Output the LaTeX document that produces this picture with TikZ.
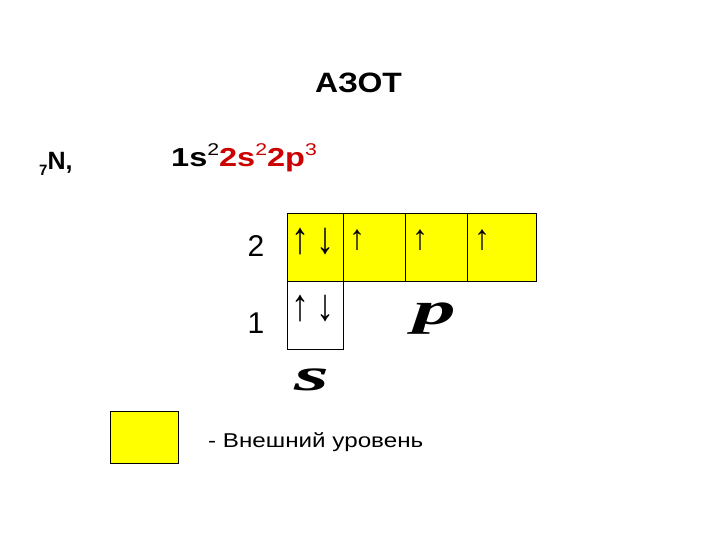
\documentclass[tikz,border=0pt]{standalone}
\usepackage{fontspec}
\setmainfont{Liberation Sans}
\newfontfamily\serifff{Liberation Serif}
\definecolor{ylw}{RGB}{255,255,0}
\definecolor{redtxt}{RGB}{204,0,0}
\newcommand{\supx}[1]{\raisebox{11pt}{\mdseries\fontsize{17}{17}\selectfont #1}}
\tikzset{
  cell/.style={draw=black, line width=0.8pt, fill=ylw, minimum width=#1, minimum height=68pt, inner sep=0pt, outer sep=0pt},
  wcell/.style={draw=black, line width=0.8pt, fill=white, minimum width=56pt, minimum height=68pt, inner sep=0pt, outer sep=0pt},
  lbl/.style={inner sep=0pt, anchor=base, font=\fontsize{30}{30}\selectfont},
  harr/.style={inner sep=0pt, anchor=base, font=\serifff\bfseries\fontsize{36}{36}\selectfont},
  tarr/.style={inner sep=0pt, anchor=base, font=\serifff\fontsize{32}{32}\selectfont},
  orb/.style={inner sep=0pt, anchor=base, font=\serifff\bfseries\itshape\fontsize{46}{46}\selectfont}
}
\begin{document}
\begin{tikzpicture}[x=1pt,y=-1pt]
\useasboundingbox (0,0) rectangle (720,540);
\fill[white] (0,0) rectangle (720,540);
% title
\node[inner sep=0pt, anchor=base, font=\bfseries\fontsize{28}{28}\selectfont] (title) at (358.5,93) {\scalebox{1.14}[1]{АЗОТ}};
% element
\node[inner sep=0pt, anchor=base west, font=\bfseries\fontsize{25}{25}\selectfont] (elem) at (39,170) {\raisebox{-6pt}{\fontsize{15}{15}\selectfont 7}N,};
\node[inner sep=0pt, anchor=base west, font=\bfseries\fontsize{26}{26}\selectfont] (conf) at (171,167) {\scalebox{1.25}[1]{1s\supx{2}\textcolor{redtxt}{2s\supx{2}2p\supx{3}}}};
% boxes
\node[cell=56pt, anchor=north west] (s2) at (287,213) {};
\node[cell=62pt, anchor=north west] (p1) at (343,213) {};
\node[cell=62pt, anchor=north west] (p2) at (405,213) {};
\node[cell=69pt, anchor=north west] (p3) at (467,213) {};
\node[wcell, anchor=north west] (s1) at (287,281) {};
% arrows level 2
\node[harr] (a1) at (300,253) {\scalebox{1}[1.25]{↑}};
\node[harr] (a2) at (325,253) {\scalebox{1}[1.25]{↓}};
\node[tarr] (a3) at (357,249) {\scalebox{1}[1.1]{↑}};
\node[tarr] (a4) at (420,249) {\scalebox{1}[1.1]{↑}};
\node[tarr] (a5) at (482,249) {\scalebox{1}[1.1]{↑}};
% arrows level 1
\node[harr] (b1) at (300,320) {\scalebox{1}[1.25]{↑}};
\node[harr] (b2) at (325,320) {\scalebox{1}[1.25]{↓}};
% level labels
\node[lbl] (n2) at (256,256) {2};
\node[lbl] (n1) at (256,333) {1};
% orbital labels
\node[orb] (plab) at (435,324) {\scalebox{1.85}[1]{p}};
\node[orb] (slab) at (312,390) {\scalebox{1.95}[1]{s}};
% legend
\node[draw=black, line width=0.8pt, fill=ylw, minimum width=68pt, minimum height=52pt, inner sep=0pt, anchor=north west] (leg) at (110,411) {};
\node[inner sep=0pt, anchor=base west, font=\fontsize{20}{20}\selectfont] (legt) at (208,447) {\scalebox{1.21}[1]{- Внешний уровень}};
\end{tikzpicture}
\end{document}
